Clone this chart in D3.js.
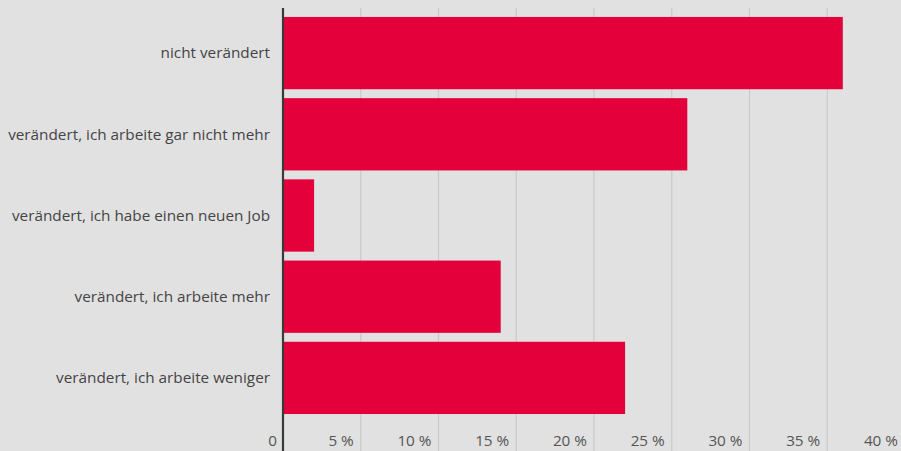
<!DOCTYPE html>
<html>
<head>
<meta charset="utf-8">
<script src="https://cdn.jsdelivr.net/npm/d3@7"></script>
<style>
  body { margin: 0; background: #e1e1e1; }
  svg { display: block; font-family: "Open Sans", sans-serif; }
</style>
</head>
<body>
<svg id="chart"></svg>
<script>
// Chart data
var categories = [
      "nicht verändert",
      "verändert, ich arbeite gar nicht mehr",
      "verändert, ich habe einen neuen Job",
      "verändert, ich arbeite mehr",
      "verändert, ich arbeite weniger"
    ],
    values = [36, 26, 2, 14, 22],
    tickValues = [0, 5, 10, 15, 20, 25, 30, 35, 40];

var w = 901,
    h = 451,
    x0 = 283,        // position of the zero line
    x40 = 905;       // 40 % line sits just past the right edge

var svg = d3.select("#chart")
    .attr("width", w)
    .attr("height", h);

svg.append("rect").attr("width", w).attr("height", h).attr("fill", "#e1e1e1");

var x = d3.scaleLinear().domain([0, 40]).range([x0, x40]);

var y = d3.scaleBand()
    .domain(categories)
    .range([12.5, 418.5])
    .paddingInner(0.11)
    .paddingOuter(0.055);

// grid lines
svg.selectAll(".grid").data(tickValues.slice(1))
    .enter().append("line")
    .attr("class", "grid")
    .attr("x1", function (d) { return x(d); })
    .attr("x2", function (d) { return x(d); })
    .attr("y1", 8)
    .attr("y2", h)
    .attr("stroke", "#c9c9c9")
    .attr("stroke-width", 1.2);

// bars
svg.selectAll(".bar").data(values)
    .enter().append("rect")
    .attr("class", "bar")
    .attr("x", x(0))
    .attr("y", function (d, i) { return y(categories[i]); })
    .attr("width", function (d) { return x(d) - x(0); })
    .attr("height", y.bandwidth())
    .attr("fill", "#e3003b");

// zero axis line
svg.append("line")
    .attr("x1", x(0)).attr("x2", x(0))
    .attr("y1", 8).attr("y2", h)
    .attr("stroke", "#3a3a3a")
    .attr("stroke-width", 2.2);

// category labels
svg.selectAll(".cat").data(categories)
    .enter().append("text")
    .attr("class", "cat")
    .attr("x", 270)
    .attr("y", function (d) { return y(d) + y.bandwidth() / 2; })
    .attr("dy", "0.35em")
    .attr("text-anchor", "end")
    .attr("font-size", 15.3)
    .attr("fill", "#444")
    .text(function (d) { return d; });

// tick labels
svg.selectAll(".tick").data(tickValues)
    .enter().append("text")
    .attr("class", "tick")
    .attr("x", function (d) { return d === 0 ? x(d) - 6 : x(d) - 7; })
    .attr("y", 446)
    .attr("text-anchor", "end")
    .attr("font-size", 15.3)
    .attr("fill", "#555")
    .text(function (d) { return d === 0 ? "0" : d + " %"; });
</script>
</body>
</html>
